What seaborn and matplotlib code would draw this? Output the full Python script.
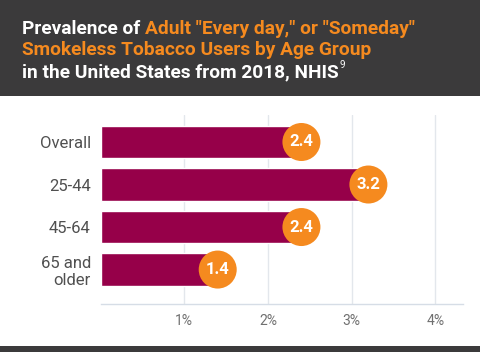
import matplotlib
matplotlib.use("Agg")
import matplotlib.pyplot as plt
import seaborn as sns
import pandas as pd

categories = ["Overall", "25-44", "45-64", "65 and\nolder"]
values = [2.4, 3.2, 2.4, 1.4]
value_labels = ["2.4", "3.2", "2.4", "1.4"]
xticks = [1, 2, 3, 4]
xtick_labels = ["1%", "2%", "3%", "4%"]

sns.set_style("white")
plt.rcParams["font.family"] = ["Roboto", "DejaVu Sans"]

DARK = "#3b3a3b"
ORANGE = "#F58A1F"
BAR = "#960049"

fig = plt.figure(figsize=(4.8, 3.52), dpi=100)
fig.patch.set_facecolor("white")

# header band
fig.patches.append(plt.Rectangle((0, 1 - 96 / 352), 1, 96 / 352, transform=fig.transFigure,
                                 facecolor=DARK, edgecolor="none", zorder=0))
# bottom stripe
fig.patches.append(plt.Rectangle((0, 0), 1, 6 / 352, transform=fig.transFigure,
                                 facecolor=DARK, edgecolor="none", zorder=0))

ax = fig.add_axes([100.5 / 480, 1 - 304 / 352, (463 - 100.5) / 480, (304 - 115) / 352])
df = pd.DataFrame({"cat": categories, "val": values})
sns.barplot(data=df, y="cat", x="val", orient="h", color=BAR, width=0.77,
            saturation=1, ax=ax, zorder=2)
ax.set_xlim(0, 4.33)
ax.set_ylim(3.81, -0.635)
ax.set_xlabel("")
ax.set_ylabel("")
ax.set_xticks(xticks)
ax.set_xticklabels(xtick_labels, color="#707070", fontsize=10)
ax.tick_params(axis="x", length=0, pad=7)
ax.tick_params(axis="y", length=0, pad=7, labelsize=12, labelcolor="#505050")
for lbl in ax.get_yticklabels():
    lbl.set_horizontalalignment("right")
    lbl.set_multialignment("right")
ax.grid(axis="x", color="#e3e7ec", linewidth=1, zorder=0)
ax.grid(axis="y", visible=False)
for s in ["top", "right", "left"]:
    ax.spines[s].set_visible(False)
ax.spines["bottom"].set_color("#d6dde6")
ax.spines["bottom"].set_linewidth(1)

# circles
ax.scatter(values, range(len(values)), s=(38 * 0.72) ** 2, color=ORANGE, zorder=4,
           edgecolors="none", clip_on=False)
for i, (v, t) in enumerate(zip(values, value_labels)):
    ax.text(v, i, t, ha="center", va="center", color="white", fontsize=12,
            fontweight="bold", zorder=5)

# title with mixed colors
fig.canvas.draw()
renderer = fig.canvas.get_renderer()
lines = [
    [("Prevalence of ", "white"), ('Adult "Every day," or "Someday"', ORANGE)],
    [("Smokeless Tobacco Users by Age Group", ORANGE)],
    [("in the United States from 2018, NHIS", "white")],
]
ys = [29, 50, 72]
for line, ypx in zip(lines, ys):
    xpx = 22
    for txt, col in line:
        t = fig.text(xpx / 480, 1 - ypx / 352, txt, color=col, fontsize=13.8,
                     fontweight="bold", va="center", ha="left")
        bb = t.get_window_extent(renderer=renderer)
        xpx += bb.width
    if line[0][0].startswith("in the"):
        fig.text(xpx / 480 + 0.002, 1 - (ypx - 7) / 352, "9", color="white", fontsize=7,
                 va="center", ha="left")

fig.savefig("out.png", dpi=100, facecolor="white")
